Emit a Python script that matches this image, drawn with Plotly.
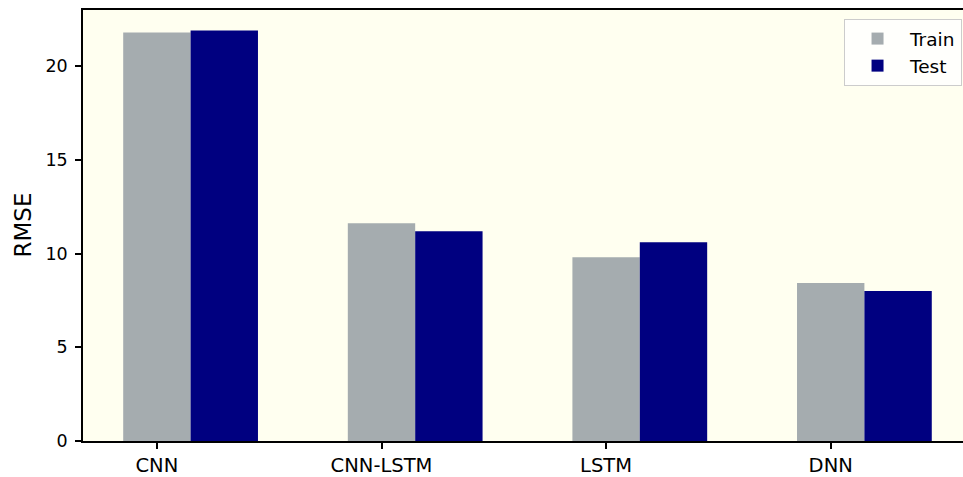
import plotly.graph_objects as go

categories = ["CNN", "CNN-LSTM", "LSTM", "DNN"]
train_rmse = [21.80, 11.62, 9.81, 8.43]
test_rmse = [21.91, 11.19, 10.61, 8.01]
y_ticks = [0, 5, 10, 15, 20]

bar_w = 0.3
idx = list(range(len(categories)))

W, H = 963, 477
ml, mr, mt, mb = 83, 0, 10, 33

fig = go.Figure()
fig.add_trace(go.Bar(x=idx, y=train_rmse, width=bar_w, name="Train",
                     marker=dict(color="#a5acaf", line=dict(width=0))))
fig.add_trace(go.Bar(x=[i + bar_w for i in idx], y=test_rmse, width=bar_w, name="Test",
                     marker=dict(color="#000080", line=dict(width=0))))

font = "DejaVu Sans"
fig.update_layout(
    width=W, height=H,
    margin=dict(l=ml, r=mr, t=mt, b=mb),
    barmode="overlay",
    paper_bgcolor="white",
    plot_bgcolor="#fffff0",
    font=dict(family=font, size=17, color="black"),
    showlegend=True,
    legend=dict(x=0.9989, y=0.979, xanchor="right", yanchor="top",
                bgcolor="rgba(255,255,255,0.8)", bordercolor="#cccccc", borderwidth=1,
                font=dict(size=18.5), itemsizing="constant", itemwidth=55),
    xaxis=dict(range=[-0.329, 3.589], tickmode="array", tickvals=idx, ticktext=categories,
               showgrid=False, zeroline=False, showline=True, linecolor="black", linewidth=1.6,
               mirror=True, ticks="outside", ticklen=6, tickwidth=1.5, tickcolor="black",
               tickfont=dict(size=19.5)),
    yaxis=dict(range=[0, 23.0], tickmode="array", tickvals=y_ticks,
               showgrid=False, zeroline=False, showline=True, linecolor="black", linewidth=1.6,
               ticks="outside", ticklen=6, tickwidth=1.5, tickcolor="black",
               tickfont=dict(size=17.5), ticklabelstandoff=4),
    annotations=[dict(text="RMSE", textangle=-90, xref="paper", yref="paper",
                      x=(22 - ml) / (W - ml - mr), y=0.5, showarrow=False,
                      font=dict(size=23, family=font), xanchor="center", yanchor="middle")],
)

fig.write_html("out.html", config={"displayModeBar": False},
               post_script="document.body.style.margin='0';document.body.style.overflow='hidden';")
